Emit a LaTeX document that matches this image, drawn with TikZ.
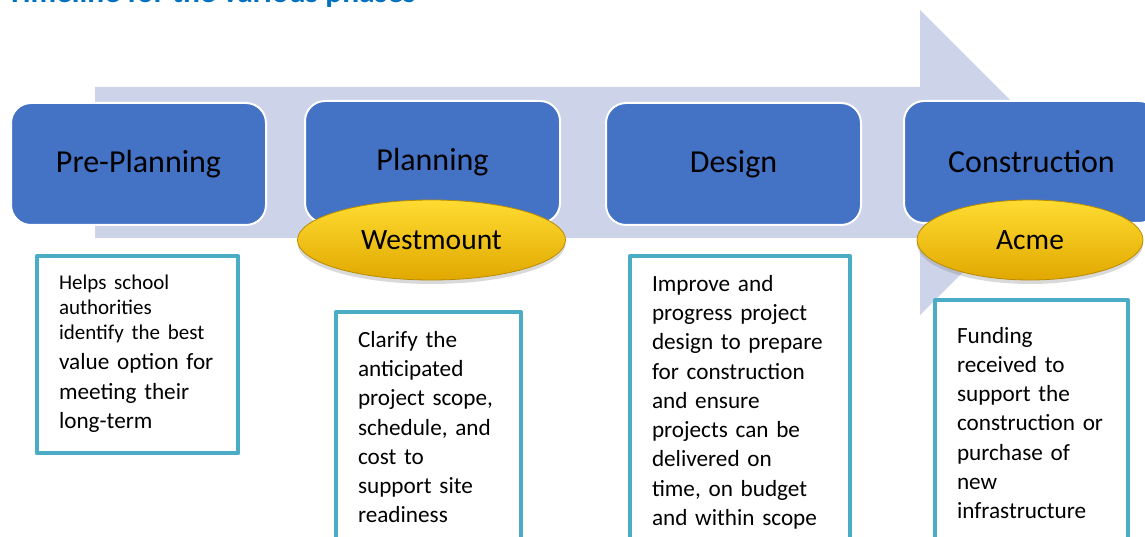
\documentclass[tikz,border=0pt]{standalone}
\usepackage{fontspec}
\setmainfont{Carlito}
\usetikzlibrary{shapes.geometric, shadows}

\begin{document}
\begin{tikzpicture}
		[x=1pt,y=-1pt,line join=round,
		%Styles
		phase box/.style={rectangle,rounded corners=20pt,fill=phaseblue,draw=white,line width=2pt,
			minimum width=255pt,minimum height=122pt,anchor=north west,font=\fontsize{32}{38}\selectfont},
		lead oval/.style={ellipse,inner sep=0pt,minimum height=80pt,draw=ovalrim,line width=.8pt,
			top color=ovaltop,middle color=ovalmid,bottom color=ovalbot,
			drop shadow={opacity=.3,shadow xshift=0pt,shadow yshift=-4pt},
			font=\fontsize{29.5}{35}\selectfont},
		info box/.style={rectangle,draw=infoteal,line width=4pt,fill=white,anchor=north west,
			inner xsep=22pt,inner ysep=19pt,align=left,font=\fontsize{23.2}{29.3}\selectfont}
		]
		
		%Colors
		\definecolor{arrowfill}{RGB}{205,212,234}
		\definecolor{phaseblue}{RGB}{68,114,196}
		\definecolor{infoteal}{RGB}{75,172,198}
		\definecolor{titleblue}{RGB}{0,112,192}
		\definecolor{ovaltop}{RGB}{255,220,50}
		\definecolor{ovalmid}{RGB}{255,200,0}
		\definecolor{ovalbot}{RGB}{225,168,0}
		\definecolor{ovalrim}{RGB}{185,140,0}
		
		%The graphic
		\clip (0,0) rectangle (1145,537);
		
		\node[anchor=base west,inner sep=0pt,text=titleblue,font=\fontsize{31.5}{37}\bfseries\selectfont] (title) at (7,3) {Timeline for the various phases};
		
		\fill[arrowfill] (95,87) -- (920,87) -- (920,10) -- (1072.5,162.5) -- (920,315) -- (920,238) -- (95,238) -- cycle;
		
		\node[phase box] (preplanning) at (10,102) {Pre-Planning};
		\node[phase box] (planning) at (304,100) {Planning};
		\node[phase box] (design) at (605,102) {Design};
		\node[phase box] (construction) at (903,100) {Construction};
		
		\node[lead oval,minimum width=268pt] (westmount) at (431.5,240) {Westmount};
		\node[lead oval,minimum width=226pt] (acme) at (1030,240) {Acme};
		
		\node[info box,text width=157pt] (preinfo) at (35,254) {{\fontsize{21}{25}\selectfont Helps school\\ authorities\\ identify the best\\[1pt]}value option for\\ meeting their\\ long-term\rule[-6pt]{0pt}{1pt}};
		\node[info box,text width=141pt] (planinfo) at (334,310) {Clarify the\\ anticipated\\ project scope,\\ schedule, and\\ cost to\\ support site\\ readiness};
		\node[info box,text width=176pt] (designinfo) at (628,254) {Improve and\\ progress project\\ design to prepare\\ for construction\\ and ensure\\ projects can be\\ delivered on\\ time, on budget\\ and within scope};
		\node[info box,text width=149pt] (constinfo) at (933,298) {\rule{0pt}{24pt}Funding\\ received to\\ support the\\ construction~or\\ purchase of\\ new\\ infrastructure\rule[-30pt]{0pt}{1pt}};
		
	\end{tikzpicture}
\end{document}
